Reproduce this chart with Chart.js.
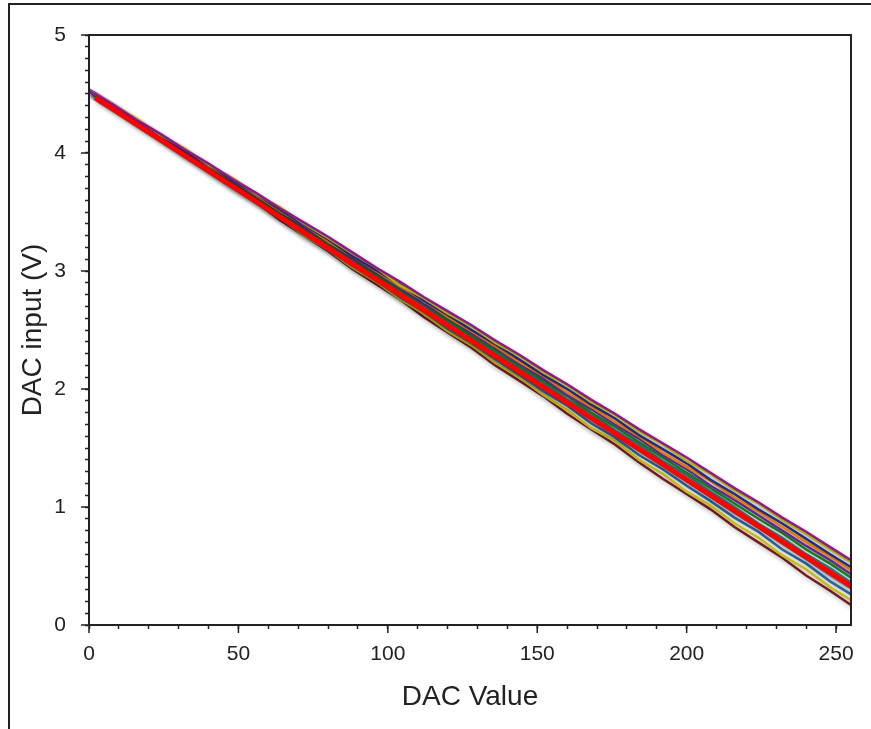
<!DOCTYPE html>
<html>
<head>
<meta charset="utf-8">
<script src="https://cdn.jsdelivr.net/npm/chart.js@4.4.0/dist/chart.umd.min.js"></script>
<style>
  html, body { margin: 0; padding: 0; background: #fff; overflow: hidden; }
  #wrap { position: relative; width: 871px; height: 729px; }
  #marco { position: absolute; left: 8px; top: 3px; width: 900px; height: 800px;
           border-left: 2px solid #222; border-top: 2px solid #222; pointer-events: none; }
</style>
</head>
<body>
<div id="wrap">
  <canvas id="grafico" width="871" height="729"></canvas>
  <div id="marco"></div>
</div>
<script>
// Valores

const dacValues = [0, 8, 16, 24, 32, 40, 48, 56, 64, 72, 80, 88, 96, 104, 112, 120, 128,
  136, 144, 152, 160, 168, 176, 184, 192, 200, 208, 216, 224, 232, 240, 248, 255];

const serieMaroon = [4.53, 4.40, 4.25, 4.12, 3.99, 3.84, 3.71, 3.58, 3.43, 3.30, 3.17, 3.02, 2.89, 2.76, 2.61, 2.48, 2.35, 2.20, 2.07, 1.94, 1.79, 1.66, 1.53, 1.38, 1.24, 1.11, 0.98, 0.83, 0.70, 0.57, 0.42, 0.29, 0.17];
const serieOlive = [4.53, 4.38, 4.27, 4.13, 3.98, 3.86, 3.71, 3.59, 3.45, 3.30, 3.18, 3.03, 2.91, 2.76, 2.64, 2.49, 2.37, 2.22, 2.10, 1.95, 1.82, 1.67, 1.56, 1.40, 1.28, 1.13, 1.01, 0.86, 0.74, 0.59, 0.47, 0.32, 0.21];
const serieBlue = [4.53, 4.40, 4.26, 4.13, 3.99, 3.87, 3.72, 3.60, 3.45, 3.33, 3.19, 3.05, 2.93, 2.78, 2.66, 2.51, 2.39, 2.25, 2.12, 1.98, 1.86, 1.71, 1.59, 1.44, 1.32, 1.18, 1.05, 0.91, 0.79, 0.64, 0.52, 0.37, 0.26];
const serieGray = [4.52, 4.40, 4.27, 4.13, 4.01, 3.86, 3.74, 3.61, 3.47, 3.34, 3.21, 3.07, 2.95, 2.80, 2.68, 2.54, 2.42, 2.27, 2.15, 2.02, 1.88, 1.75, 1.62, 1.48, 1.36, 1.22, 1.09, 0.95, 0.83, 0.69, 0.56, 0.42, 0.31];
const serieTeal = [4.53, 4.41, 4.27, 4.14, 4.00, 3.88, 3.75, 3.62, 3.48, 3.36, 3.22, 3.10, 2.96, 2.83, 2.71, 2.57, 2.44, 2.31, 2.17, 2.05, 1.91, 1.79, 1.65, 1.53, 1.39, 1.27, 1.13, 1.00, 0.86, 0.74, 0.60, 0.48, 0.36];
const serieGreen = [4.53, 4.40, 4.28, 4.14, 4.02, 3.88, 3.76, 3.62, 3.50, 3.36, 3.24, 3.11, 2.97, 2.85, 2.71, 2.59, 2.45, 2.33, 2.19, 2.07, 1.94, 1.80, 1.68, 1.55, 1.42, 1.29, 1.16, 1.03, 0.90, 0.78, 0.64, 0.52, 0.40];
const seriePurple = [4.54, 4.41, 4.27, 4.15, 4.01, 3.89, 3.76, 3.63, 3.51, 3.37, 3.25, 3.11, 2.99, 2.86, 2.72, 2.61, 2.47, 2.35, 2.21, 2.09, 1.95, 1.83, 1.70, 1.58, 1.44, 1.32, 1.18, 1.06, 0.93, 0.80, 0.67, 0.55, 0.43];
const serieOrange = [4.53, 4.41, 4.28, 4.15, 4.03, 3.89, 3.77, 3.64, 3.51, 3.39, 3.25, 3.13, 3.00, 2.87, 2.75, 2.61, 2.49, 2.36, 2.23, 2.11, 1.97, 1.85, 1.72, 1.60, 1.46, 1.34, 1.22, 1.08, 0.96, 0.83, 0.70, 0.58, 0.46];
const serieNavy = [4.52, 4.40, 4.28, 4.15, 4.02, 3.90, 3.77, 3.65, 3.52, 3.39, 3.27, 3.13, 3.01, 2.89, 2.75, 2.63, 2.50, 2.38, 2.25, 2.12, 2.00, 1.87, 1.75, 1.61, 1.49, 1.37, 1.23, 1.11, 0.98, 0.86, 0.73, 0.60, 0.49];
const serieYellow = [4.53, 4.41, 4.29, 4.15, 4.04, 3.90, 3.79, 3.65, 3.54, 3.40, 3.28, 3.15, 3.03, 2.88, 2.77, 2.64, 2.53, 2.39, 2.28, 2.14, 2.03, 1.89, 1.78, 1.64, 1.53, 1.39, 1.28, 1.14, 1.03, 0.89, 0.77, 0.64, 0.53];
const serieMagenta = [4.53, 4.41, 4.28, 4.16, 4.03, 3.91, 3.78, 3.66, 3.53, 3.41, 3.29, 3.16, 3.03, 2.91, 2.78, 2.66, 2.54, 2.41, 2.29, 2.16, 2.04, 1.91, 1.79, 1.66, 1.54, 1.42, 1.29, 1.16, 1.04, 0.91, 0.79, 0.66, 0.55];

// Recta ideal (roja)
const idealX = [2, 255];
const idealY = [4.47, 0.33];

const series = [
  { datos: serieMagenta, color: "#8b1a8b" },
  { datos: serieYellow, color: "#c9c41c" },
  { datos: serieNavy, color: "#27338a" },
  { datos: serieOrange, color: "#ff8a12" },
  { datos: seriePurple, color: "#7030a0" },
  { datos: serieGreen, color: "#1e8a2a" },
  { datos: serieTeal, color: "#23898c" },
  { datos: serieGray, color: "#9a9a9a" },
  { datos: serieBlue, color: "#2f6aa8" },
  { datos: serieOlive, color: "#c8c41e" },
  { datos: serieMaroon, color: "#7f1d1d" },
];

const datasets = [
  {
    label: "Ideal",
    data: idealX.map((x, i) => ({ x: x, y: idealY[i] })),
    borderColor: "#ff0000",
    borderWidth: 5,
    pointRadius: 0,
  },
];
series.forEach((s, j) => {
  datasets.push({
    label: "Canal " + (j + 1),
    data: dacValues.map((x, i) => ({ x: x, y: s.datos[i] })),
    borderColor: s.color,
    borderWidth: 2.5,
    pointRadius: 0,
  });
});

// Sombra bajo las lineas
const sombra = {
  id: "sombra",
  beforeDatasetsDraw(chart) {
    const c = chart.ctx;
    c.save();
    c.shadowColor = "rgba(0,0,0,0.28)";
    c.shadowBlur = 4;
    c.shadowOffsetX = 2;
    c.shadowOffsetY = 3;
  },
  afterDatasetsDraw(chart) {
    chart.ctx.restore();
  },
};

// Marco del area y ticks mayores
const marcoArea = {
  id: "marcoArea",
  afterDraw(chart) {
    const c = chart.ctx;
    const a = chart.chartArea;
    c.save();
    c.strokeStyle = "#222";
    c.lineWidth = 2;
    c.strokeRect(a.left, a.top, a.right - a.left, a.bottom - a.top);
    c.lineWidth = 1.5;
    c.beginPath();
    [0, 50, 100, 150, 200, 250].forEach((v) => {
      const px = chart.scales.x.getPixelForValue(v);
      c.moveTo(px, a.bottom);
      c.lineTo(px, a.bottom + 8);
    });
    [0, 1, 2, 3, 4, 5].forEach((v) => {
      const py = chart.scales.y.getPixelForValue(v);
      c.moveTo(a.left, py);
      c.lineTo(a.left - 8, py);
    });
    c.stroke();
    c.restore();
  },
};

const ctx = document.getElementById("grafico");

const chart = new Chart(ctx, {
  type: "line",
  data: { datasets: datasets },
  plugins: [sombra, marcoArea],
  options: {
    responsive: false,
    animation: false,
    layout: { padding: { top: 35, right: 20, left: 0, bottom: 0 } },
    plugins: { legend: { display: false }, tooltip: { enabled: false } },
    elements: { line: { tension: 0 } },
    scales: {
      x: {
        type: "linear",
        min: 0,
        max: 255,
        afterFit: (s) => { s.height = 104; },
        ticks: {
          stepSize: 10,
          includeBounds: false,
          autoSkip: false,
          maxRotation: 0,
          padding: 13,
          color: "#222",
          font: { family: "'Liberation Sans', Arial, sans-serif", size: 21 },
          callback: (v) => (v % 50 === 0 ? v : ""),
        },
        grid: { drawOnChartArea: false, tickLength: 4, tickColor: "#222", tickWidth: 1.5 },
        border: { color: "#222", width: 2 },
        title: {
          display: true,
          text: "DAC Value",
          color: "#222",
          font: { family: "'Liberation Sans', Arial, sans-serif", size: 28 },
          padding: { top: 0, bottom: 15 },
        },
      },
      y: {
        min: 0,
        max: 5,
        afterFit: (s) => { s.width = 89; },
        ticks: {
          stepSize: 0.1,
          autoSkip: false,
          padding: 19,
          color: "#222",
          font: { family: "'Liberation Sans', Arial, sans-serif", size: 21 },
          callback: (v) => (Math.abs(v - Math.round(v)) < 1e-6 ? Math.round(v) : ""),
        },
        grid: { drawOnChartArea: false, tickLength: 4, tickColor: "#222", tickWidth: 1.5 },
        border: { color: "#222", width: 2 },
        title: {
          display: true,
          text: "DAC input (V)",
          color: "#222",
          font: { family: "'Liberation Sans', Arial, sans-serif", size: 28 },
          padding: { top: 16, bottom: 0 },
        },
      },
    },
  },
});
</script>
</body>
</html>
